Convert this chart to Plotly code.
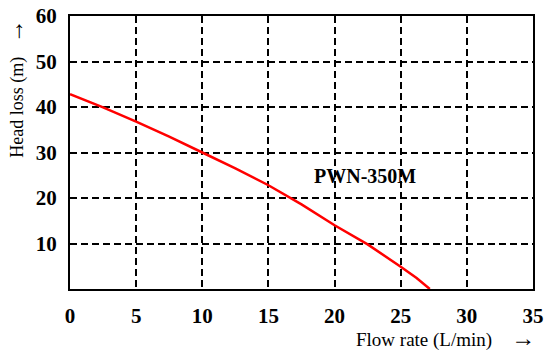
import plotly.graph_objects as go

flow = [0, 2.5, 5, 7.5, 10, 12.5, 15, 17.5, 20, 22.5, 25, 26.2, 27.2]
head = [42.8, 39.9, 36.8, 33.5, 30.0, 26.5, 22.8, 18.6, 14.0, 9.8, 4.9, 2.4, 0.0]
x_ticks = [0, 5, 10, 15, 20, 25, 30, 35]
y_ticks = [10, 20, 30, 40, 50, 60]
label = "PWN-350M"
label_pos = (22.3, 24.9)

FONT = "Liberation Serif, Times New Roman, serif"
NB = "\u00a0"

fig = go.Figure()
fig.add_trace(go.Scatter(x=flow, y=head, mode="lines",
                         line=dict(color="#ff0000", width=2.5), showlegend=False))

fig.add_annotation(x=label_pos[0], y=label_pos[1], text="<b>" + label + "</b>",
                   showarrow=False, font=dict(family=FONT, size=20, color="black"))

fig.add_annotation(xref="paper", yref="paper", x=-0.119, y=0.733,
                   text="Head loss (m)" + NB * 3 + "<span style='font-size:24px'>→</span>",
                   textangle=-90,
                   showarrow=False, xanchor="center", yanchor="middle",
                   font=dict(family=FONT, size=18, color="black"))
fig.add_annotation(xref="paper", yref="paper", x=0.811, y=-0.179,
                   text="Flow rate (L/min)" + NB * 4 + "<span style='font-size:24px'>→</span>",
                   showarrow=False, xanchor="center", yanchor="middle",
                   font=dict(family=FONT, size=19, color="black"))

grid = dict(showgrid=True, gridcolor="black", griddash="7px,4px", gridwidth=1.8,
            zeroline=False, showline=True, linecolor="black", linewidth=2, mirror=True,
            ticks="outside", ticklen=7, tickcolor="rgba(0,0,0,0)", automargin=False,
            tickfont=dict(family=FONT, size=21, color="black", weight="bold"))

fig.update_xaxes(range=[0, 35], tickvals=x_ticks, **grid)
fig.update_yaxes(range=[0, 60], tickvals=y_ticks, **grid)

fig.update_layout(width=550, height=354, margin=dict(l=70, r=17, t=16, b=65),
                  plot_bgcolor="white", paper_bgcolor="white",
                  font=dict(family=FONT))
# remove the default 8px page margin so the 550x354 figure fills the window exactly
fig.write_html("out.html", config={"displayModeBar": False},
               post_script="document.body.style.margin='0';")
